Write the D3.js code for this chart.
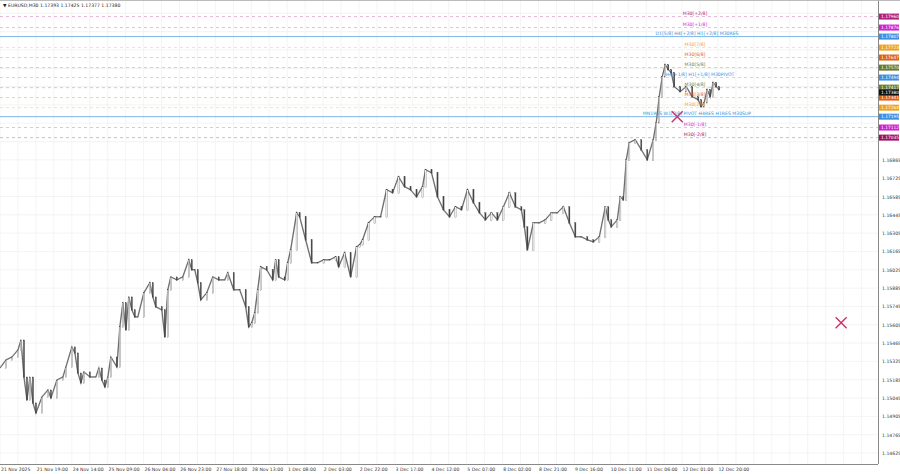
<!DOCTYPE html>
<html><head><meta charset="utf-8">
<script src="https://cdn.jsdelivr.net/npm/d3@7"></script>
<style>body{margin:0;background:#fff}svg{display:block;font-family:"DejaVu Sans",sans-serif}</style>
</head><body><svg id="c" width="900" height="474"></svg>
<script>
// time position (units of ~1.6 H1 bars) and close prices
const tPos = [0,2,4,6,7,8,9,10,11,12,14,16,17,19,21,22,24,25,26,27,28,30,32,33,34,35,36,37,39,40,41,42,43,44,45,46,48,50,51,52,54,55,56,57,59,61,63,64,65,66,67,69,71,73,75,76,78,80,82,83,84,85,86,87,89,91,92,93,95,96,97,99,100,102,104,106,108,110,112,113,115,117,119,
120,121,123,125,127,129,131,133,135,137,139,141,142,144,146,148,150,152,154,156,158,160,162,164,166,168,170,172,174,175,176,178,180,182,184,186,188,190,192,194,196,198,200,202,203,204,206,207,208,209,210,212,214,216,218,219,220,221,222,223,224,225,227,229,231,233,234,235,236,237,238,239,240];
const closes = [1.15275,1.15336,1.15359,1.15413,1.15489,1.15206,1.15030,1.15206,1.15008,1.14931,1.15053,1.15107,1.15046,1.15183,1.15206,1.15283,1.15436,1.15390,1.15237,1.15161,1.15245,1.15206,1.15206,1.15275,1.15183,1.15130,1.15206,1.15359,1.15283,1.15589,1.15773,1.15566,1.15818,1.15719,1.15665,1.15665,1.15849,1.15926,1.15818,1.15742,1.15719,1.15512,1.15872,1.15971,1.15948,1.15971,1.16101,1.16025,1.16025,1.15926,1.15795,1.15849,1.15971,1.15948,1.15948,1.16002,1.15872,1.15872,1.15742,1.15589,1.15620,1.15696,1.15872,1.16048,1.16025,1.15948,1.16101,1.15971,1.15948,1.16079,1.16178,1.16461,1.16430,1.16254,1.16079,1.16079,1.16101,1.16101,1.16124,1.16048,1.16155,1.15971,1.16201,
1.16216,1.16254,1.16385,1.16430,1.16430,1.16637,1.16614,1.16736,1.16660,1.16637,1.16583,1.16660,1.16790,1.16767,1.16583,1.16484,1.16430,1.16507,1.16484,1.16637,1.16538,1.16461,1.16407,1.16461,1.16407,1.16507,1.16614,1.16507,1.16484,1.16354,1.16178,1.16385,1.16385,1.16407,1.16461,1.16461,1.16507,1.16385,1.16277,1.16277,1.16254,1.16239,1.16277,1.16507,1.16407,1.16354,1.16407,1.16583,1.16560,1.16866,1.16997,1.17019,1.16943,1.16866,1.17019,1.17150,1.17348,1.17501,1.17593,1.17555,1.17532,1.17425,1.17387,1.17425,1.17348,1.17325,1.17272,1.17303,1.17402,1.17348,1.17456,1.17425,1.17402];
const priceTicks = ["1.17985","1.17845","1.17705","1.17565","1.17425","1.17285","1.17145","1.17005","1.16865","1.16725","1.16585","1.16445","1.16305","1.16165","1.16025","1.15885","1.15745","1.15605","1.15465","1.15325","1.15185","1.15045","1.14905","1.14765","1.14625"];
const timeLabels = ["21 Nov 2025","21 Nov 19:00","24 Nov 14:00","25 Nov 09:00","26 Nov 04:00","26 Nov 23:00","27 Nov 18:00","28 Nov 13:00","1 Dec 08:00","2 Dec 03:00","2 Dec 22:00","3 Dec 17:00","4 Dec 12:00","5 Dec 07:00","8 Dec 02:00","8 Dec 21:00","9 Dec 16:00","10 Dec 11:00","11 Dec 06:00","12 Dec 01:00","12 Dec 20:00"];
const levelNames = ["M30[+2/8]","M30[+1/8]","D1[5/8] H4[+2/8] H1[+2/8] M30RES","M30[7/8]","M30[6/8]","M30[5/8]","H4[+1/8] H1[+1/8] M30PIVOT","M30[4/8]","M30[3/8]","M30[2/8]","MN1RES W1[2/8] PIVOT H4RES H1RES M30SUP","M30[-1/8]","M30[-2/8]"];
const levelPrices = [1.17960,1.17876,1.17807,1.17723,1.17647,1.17570,1.17494,1.17417,1.17341,1.17264,1.17195,1.17112,1.17035];
const levelColors = ["#b0207a","#d020d0","#3a8fe0","#f0a020","#e06010","#6b7a2a","#3a8fe0","#6b7a2a","#e06010","#f0a020","#3a8fe0","#d020d0","#a01060"];
const lastPrice = 1.17380;
const crosses = [[226,1.17195],[280.7,1.15620]];

const svg = d3.select("#c");
const W = 878, H = 464;
const x = d3.scaleLinear().domain([0,293]).range([0,W]);
const y = d3.scaleLinear().domain([1.14625,1.17985]).range([453,13.3]);

const g = svg.append("g");
for (let i=0;i<=48;i++) g.append("line").attr("x1",i*17.95).attr("x2",i*17.95).attr("y1",0).attr("y2",H).attr("stroke","#ececec").attr("stroke-width",0.6);
priceTicks.forEach(t=>{g.append("line").attr("x1",0).attr("x2",W).attr("y1",y(+t)).attr("y2",y(+t)).attr("stroke","#ececec").attr("stroke-width",0.6);});

levelPrices.forEach((p,i)=>{
  const solid = i===2||i===10;
  svg.append("line").attr("x1",0).attr("x2",W).attr("y1",y(p)).attr("y2",y(p))
    .attr("stroke",solid?"#7fb5e8":levelColors[i]).attr("stroke-opacity",solid?1:0.55)
    .attr("stroke-width",solid?1:0.6).attr("stroke-dasharray",solid?null:"3,3");
});

const pts = closes.map((c,i)=>[x(tPos[i]),y(c)]);
svg.append("path").attr("d",d3.line()(pts)).attr("fill","none").attr("stroke","#bbb").attr("stroke-width",1.6);
svg.append("path").attr("d",d3.line()(pts)).attr("fill","none").attr("stroke","#444").attr("stroke-width",0.7);
closes.forEach((c,i)=>{ if(i===0) return;
  svg.append("rect").attr("x",x(tPos[i])-0.6).attr("width",1.2)
   .attr("y",Math.min(y(c),y(closes[i-1]))).attr("height",Math.abs(y(c)-y(closes[i-1]))+0.5)
   .attr("fill",c>=closes[i-1]?"#fff":"#444").attr("stroke","#444").attr("stroke-width",0.3);
});

levelNames.forEach((n,i)=>{
  const cx = (i===2)?697:(i===6)?700:(i===10)?697:695;
  svg.append("text").attr("x",cx).attr("y",y(levelPrices[i])-1.5).attr("text-anchor","middle")
    .attr("font-size",4.6).attr("fill",levelColors[i]).text(n);
});

crosses.forEach(([t,p])=>{
  const cx=x(t), cy=y(p), s=5.5;
  svg.append("path").attr("d",`M${cx-s},${cy-s}L${cx+s},${cy+s}M${cx-s},${cy+s}L${cx+s},${cy-s}`).attr("stroke","#d0306a").attr("stroke-width",1.4);
});

svg.append("line").attr("x1",W+0.5).attr("x2",W+0.5).attr("y1",0).attr("y2",H).attr("stroke","#888");
svg.append("line").attr("x1",0).attr("x2",W).attr("y1",H+0.5).attr("y2",H+0.5).attr("stroke","#888");
svg.append("line").attr("x1",0).attr("x2",900).attr("y1",0.5).attr("y2",0.5).attr("stroke","#bbb");
const boxes = levelPrices.concat([lastPrice]).map(p=>y(p));
priceTicks.forEach(t=>{
  const ty=y(+t);
  if (boxes.some(b=>Math.abs(b-ty)<6)) return;
  svg.append("text").attr("x",882).attr("y",ty+2).attr("font-size",4.6).attr("fill","#333").text(t);
});
levelPrices.forEach((p,i)=>{
  svg.append("rect").attr("x",W+1).attr("y",y(p)-3).attr("width",20).attr("height",6).attr("fill",levelColors[i]);
  svg.append("text").attr("x",W+3).attr("y",y(p)+1.8).attr("font-size",4.4).attr("fill","#fff").text(p.toFixed(5));
});
svg.append("rect").attr("x",W+1).attr("y",y(lastPrice)-3).attr("width",20).attr("height",6).attr("fill","#111");
svg.append("text").attr("x",W+3).attr("y",y(lastPrice)+1.8).attr("font-size",4.4).attr("fill","#fff").text(lastPrice.toFixed(5));

timeLabels.forEach((l,i)=>{
  svg.append("text").attr("x",x(i*11.97)+1).attr("y",471).attr("font-size",4.6).attr("fill","#333").text(l);
});
svg.append("text").attr("x",3).attr("y",7).attr("font-size",4.6).attr("fill","#222").text("▼ EURUSD,M30  1.17393 1.17425 1.17377 1.17380");
</script></body></html>
